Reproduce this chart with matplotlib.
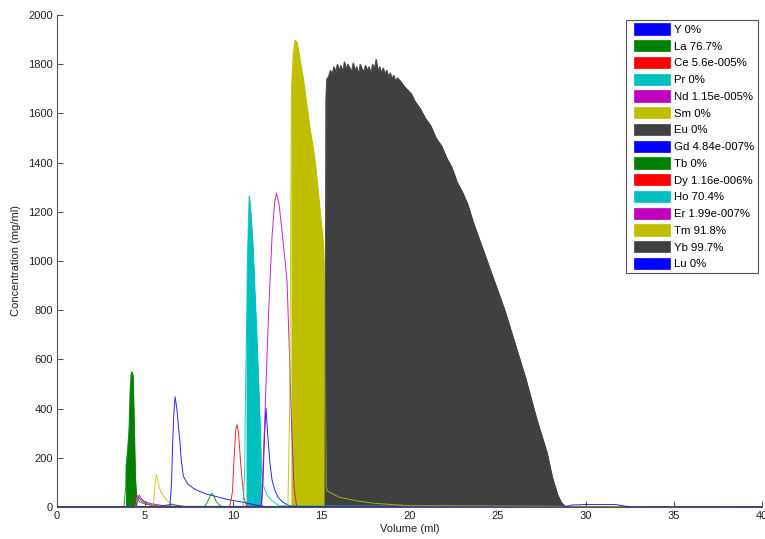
import matplotlib
matplotlib.use("Agg")
import matplotlib.pyplot as plt
from matplotlib.patches import Patch, Rectangle
from matplotlib.legend_handler import HandlerPatch
import numpy as np

plt.rcParams['font.family'] = ['Liberation Sans', 'DejaVu Sans']

# ---- data (volume in ml, concentration in mg/ml) ----
elements = ["Y", "La", "Ce", "Pr", "Nd", "Sm", "Eu", "Gd", "Tb", "Dy",
            "Ho", "Er", "Tm", "Yb", "Lu"]
purity = ["0%", "76.7%", "5.6e-005%", "0%", "1.15e-005%", "0%", "0%",
          "4.84e-007%", "0%", "1.16e-006%", "70.4%", "1.99e-007%",
          "91.8%", "99.7%", "0%"]

y_vol = [11.6, 11.69, 11.78, 11.86, 11.95, 12.08, 12.2, 12.35, 12.54, 12.8, 13.1, 13.5]
y_conc = [0, 110, 300, 402, 300, 179, 110, 70, 40, 20, 8, 0]

la_vol = [3.8, 3.9, 3.92, 3.96, 4.0, 4.05, 4.09, 4.14, 4.2, 4.24, 4.3, 4.37, 4.43, 4.48, 4.55, 4.7, 4.9, 5.2, 5.6]
la_conc = [0, 80, 170, 200, 230, 280, 326, 463, 540, 550, 535, 326, 123, 60, 45, 35, 22, 10, 3]

ce_vol = [4.35, 4.42, 4.48, 4.55, 4.7, 5.0, 5.5, 6.0, 6.5]
ce_conc = [0, 30, 53, 35, 20, 12, 6, 3, 0]

pr_vol = [4.45, 4.52, 4.57, 4.65, 4.8, 5.2, 5.8, 6.5]
pr_conc = [0, 25, 45, 35, 22, 12, 6, 0]

nd_vol = [4.5, 4.6, 4.67, 4.75, 4.9, 5.3, 6.0, 6.8]
nd_conc = [0, 30, 49, 38, 25, 14, 6, 0]

sm_vol = [5.4, 5.47, 5.55, 5.62, 5.65, 5.72, 5.8, 5.94, 6.1, 6.32, 6.6, 7.0, 7.5]
sm_conc = [0, 10, 80, 125, 130, 110, 80, 56, 38, 22, 10, 3, 0]

eu_vol = [5.8, 6.2, 6.5, 7.0, 7.5]
eu_conc = [0, 8, 10, 5, 0]

gd_vol = [6.3, 6.41, 6.5, 6.56, 6.63, 6.7, 6.8, 6.9, 6.98, 7.05, 7.17, 7.4, 7.7, 7.92, 8.5, 9.06, 9.7, 10.38, 11.0, 11.5, 12.0]
gd_conc = [0, 5, 100, 260, 380, 448, 400, 320, 260, 190, 125, 95, 78, 69, 52, 42, 30, 22, 12, 5, 0]

tb_vol = [8.35, 8.5, 8.65, 8.78, 8.9, 9.05, 9.25, 9.5]
tb_conc = [0, 15, 40, 56, 45, 20, 5, 0]

dy_vol = [9.8, 9.95, 10.05, 10.15, 10.22, 10.3, 10.45, 10.6, 10.75, 10.9]
dy_conc = [0, 60, 200, 320, 335, 300, 150, 40, 5, 0]

ho_vol = [10.55, 10.65, 10.7, 10.75, 10.8, 10.9, 11.0, 11.1, 11.2, 11.3, 11.4, 11.5, 11.55, 11.6, 11.7, 11.9, 12.2, 12.6]
ho_conc = [0, 150, 500, 700, 1000, 1264, 1180, 1070, 900, 730, 550, 350, 240, 150, 90, 50, 25, 5]

er_vol = [11.6, 11.8, 12.0, 12.2, 12.35, 12.45, 12.6, 12.8, 13.05, 13.2, 13.3, 13.45, 13.6]
er_conc = [0, 380, 780, 1100, 1240, 1276, 1230, 1100, 920, 600, 350, 80, 0]

tm_vol = [13.1, 13.2, 13.25, 13.3, 13.4, 13.5, 13.6, 13.75, 13.97, 14.15, 14.35, 14.5, 14.64, 14.8, 14.92, 15.05,
          15.11, 15.17, 15.22, 15.27, 15.35, 15.6, 16.0, 17.0, 18.0, 20.0]
tm_conc = [0, 400, 1000, 1700, 1840, 1898, 1890, 1830, 1736, 1640, 1533, 1470, 1398, 1290, 1195, 1110,
           1057, 900, 640, 80, 65, 55, 40, 25, 15, 5]

yb_vol = [15.2, 15.25, 15.3, 15.4, 15.5, 15.6, 15.7, 15.8, 15.9, 16.0, 16.1, 16.2, 16.3, 16.4, 16.5, 16.6,
          16.7, 16.8, 16.9, 17.0, 17.1, 17.2, 17.3, 17.4, 17.5, 17.6, 17.7, 17.8, 17.9, 18.0,
          18.1, 18.2, 18.3, 18.4, 18.5, 18.6, 18.7, 18.8, 18.9, 19.0, 19.1, 19.2, 19.3, 19.5,
          19.7, 19.9, 20.1, 20.3, 20.6, 20.9, 21.2, 21.5, 21.8, 22.1, 22.4, 22.7, 23.0, 23.3,
          23.6, 23.9, 24.2, 24.5, 24.8, 25.1, 25.4, 25.7, 26.0, 26.3, 26.6, 26.9, 27.2, 27.5,
          27.8, 28.1, 28.4, 28.6, 28.8, 29.0]
yb_conc = [0, 1650, 1740, 1750, 1775, 1760, 1790, 1770, 1800, 1775, 1795, 1770, 1810, 1780, 1800, 1785,
           1770, 1805, 1775, 1790, 1760, 1800, 1780, 1770, 1795, 1775, 1790, 1760, 1800, 1780,
           1820, 1770, 1790, 1765, 1785, 1760, 1775, 1750, 1765, 1740, 1755, 1730, 1745, 1730,
           1710, 1695, 1680, 1650, 1620, 1580, 1550, 1500, 1470, 1420, 1380, 1320, 1280, 1230,
           1160, 1100, 1040, 980, 920, 860, 800, 730, 660, 590, 520, 440, 360, 290,
           220, 120, 50, 20, 5, 0]

lu_vol = [28.8, 29.2, 30.0, 31.0, 31.7, 32.1, 32.5]
lu_conc = [0, 8, 10, 10, 10, 5, 0]

profiles = [(y_vol, y_conc), (la_vol, la_conc), (ce_vol, ce_conc), (pr_vol, pr_conc),
            (nd_vol, nd_conc), (sm_vol, sm_conc), (eu_vol, eu_conc), (gd_vol, gd_conc),
            (tb_vol, tb_conc), (dy_vol, dy_conc), (ho_vol, ho_conc), (er_vol, er_conc),
            (tm_vol, tm_conc), (yb_vol, yb_conc), (lu_vol, lu_conc)]

# collected fractions (start, end volume) for the filled areas
cuts = {"La": (3.92, 4.48), "Ho": (10.75, 11.55), "Tm": (13.3, 15.17), "Yb": (15.2, 29.0)}

colors = [(0, 0, 1), (0, 0.5, 0), (1, 0, 0), (0, 0.75, 0.75), (0.75, 0, 0.75),
          (0.75, 0.75, 0), (0.25, 0.25, 0.25)]

fig = plt.figure(figsize=(7.65, 5.39), dpi=100)
ax = fig.add_axes([57 / 765, 32 / 539, 705 / 765, 492 / 539])

# fills
for i, (name, (v, c)) in enumerate(zip(elements, profiles)):
    if name in cuts:
        a, b = cuts[name]
        v = np.array(v, float)
        c = np.array(c, float)
        m = (v >= a - 1e-9) & (v <= b + 1e-9)
        col = colors[i % 7]
        ax.fill_between(v, 0, c, where=m, color=col, linewidth=0.6, zorder=2)

# lines (full profiles with baseline from 0 to 40)
for i, (v, c) in enumerate(profiles):
    col = colors[i % 7]
    vv = [0.0] + list(v) + [40.0]
    cc = [0.0] + list(c) + [0.0]
    ax.plot(vv, cc, color=col, linewidth=0.7, alpha=0.85, zorder=3)

ax.set_xlim(0, 40)
ax.set_ylim(0, 2000)
ax.set_xticks(np.arange(0, 41, 5))
ax.set_yticks(np.arange(0, 2001, 200))
for s in ["top", "right"]:
    ax.spines[s].set_visible(False)
for s in ["left", "bottom"]:
    ax.spines[s].set_color("#555555")
    ax.spines[s].set_linewidth(0.8)
ax.tick_params(direction="in", length=4, width=0.8, color="#555555",
               labelsize=8, labelcolor="#222222", pad=3)
ax.set_xlabel("Volume (ml)", fontsize=8, color="#222222", labelpad=2)
ax.set_ylabel("Concentration (mg/ml)", fontsize=8, color="#222222", labelpad=5)


def offset_rect(legend, orig_handle, xdescent, ydescent, width, height, fontsize):
    gap = width * 0.12
    return Rectangle((-xdescent + gap, -ydescent), width - gap, height)


handles = [Patch(facecolor=colors[i % 7], edgecolor=colors[i % 7], linewidth=0.5,
                 label=f"{elements[i]} {purity[i]}") for i in range(len(elements))]
leg = ax.legend(handles=handles, loc="upper right", bbox_to_anchor=(0.994, 0.99),
                fontsize=8.2, handlelength=3.6, handleheight=1.15, labelspacing=0.46,
                handletextpad=0.35, borderpad=0.3, borderaxespad=0.0,
                fancybox=False, framealpha=1, edgecolor="#555555",
                handler_map={Patch: HandlerPatch(patch_func=offset_rect)})
leg.get_frame().set_linewidth(0.8)

fig.savefig("out.png", dpi=100)
